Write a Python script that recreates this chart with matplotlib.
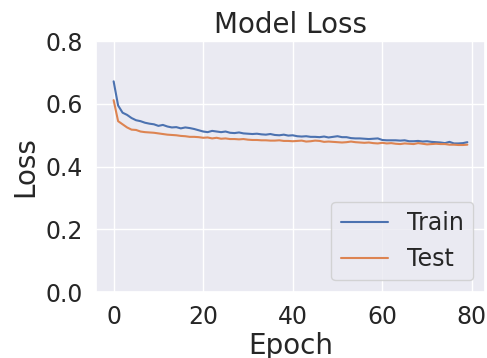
import matplotlib
matplotlib.use("Agg")
import matplotlib.pyplot as plt
import seaborn as sns
import numpy as np

train_loss = [0.672, 0.595, 0.572, 0.565, 0.555, 0.548, 0.545, 0.540, 0.537, 0.535,
              0.530, 0.533, 0.528, 0.525, 0.526, 0.522, 0.525, 0.523, 0.520, 0.516,
              0.512, 0.510, 0.514, 0.512, 0.510, 0.512, 0.508, 0.507, 0.509, 0.506,
              0.505, 0.504, 0.505, 0.503, 0.502, 0.504, 0.501, 0.500, 0.502, 0.499,
              0.500, 0.497, 0.496, 0.497, 0.495, 0.495, 0.494, 0.496, 0.493, 0.495,
              0.497, 0.494, 0.494, 0.491, 0.490, 0.490, 0.489, 0.488, 0.489, 0.490,
              0.485, 0.484, 0.484, 0.484, 0.483, 0.484, 0.481, 0.481, 0.482, 0.480,
              0.481, 0.479, 0.478, 0.477, 0.475, 0.479, 0.474, 0.474, 0.475, 0.478]
test_loss = [0.612, 0.545, 0.535, 0.525, 0.518, 0.517, 0.512, 0.510, 0.509, 0.508,
             0.506, 0.504, 0.502, 0.501, 0.500, 0.498, 0.497, 0.495, 0.495, 0.494,
             0.492, 0.493, 0.490, 0.492, 0.489, 0.490, 0.488, 0.488, 0.487, 0.488,
             0.486, 0.485, 0.485, 0.484, 0.484, 0.483, 0.483, 0.484, 0.482, 0.482,
             0.481, 0.482, 0.483, 0.480, 0.481, 0.483, 0.482, 0.479, 0.480, 0.479,
             0.478, 0.477, 0.478, 0.480, 0.478, 0.477, 0.476, 0.477, 0.475, 0.474,
             0.476, 0.474, 0.475, 0.473, 0.472, 0.474, 0.473, 0.472, 0.475, 0.473,
             0.471, 0.472, 0.473, 0.472, 0.472, 0.470, 0.470, 0.469, 0.469, 0.470]
epochs = np.arange(len(train_loss))

sns.set_theme(style="darkgrid")
plt.rcParams['font.family'] = ['DejaVu Sans']

fig = plt.figure(figsize=(4.87, 3.58), dpi=100)
ax = fig.add_axes([0.197, 0.184, 0.799, 0.701])
pal = sns.color_palette("deep")
ax.plot(epochs, train_loss, color=pal[0], lw=1.5, label="Train")
ax.plot(epochs, test_loss, color=pal[1], lw=1.5, label="Test")
ax.set_ylim(0, 0.8)
ax.set_xticks([0, 20, 40, 60, 80])
ax.set_yticks([0.0, 0.2, 0.4, 0.6, 0.8])
ax.tick_params(labelsize=17)
ax.set_title("Model Loss", fontsize=20)
ax.set_xlabel("Epoch", fontsize=20, labelpad=2)
ax.set_ylabel("Loss", fontsize=20)
ax.legend(loc="lower right", fontsize=17)
fig.savefig("out.png", dpi=100)
